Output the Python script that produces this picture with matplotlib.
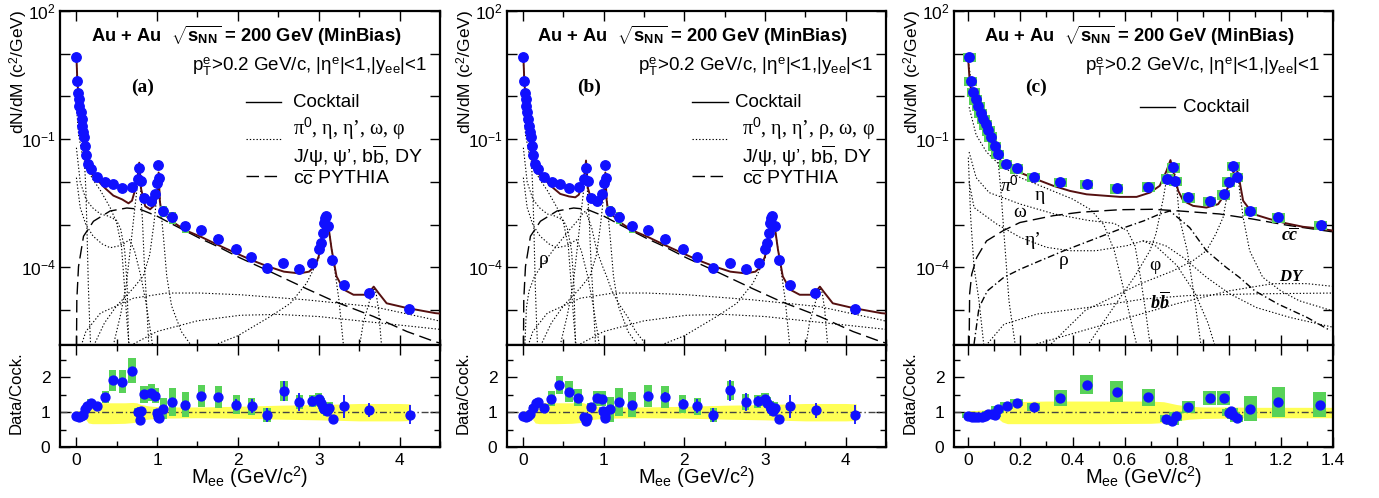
import numpy as np
import matplotlib
matplotlib.use("Agg")
import matplotlib.pyplot as plt
from matplotlib.patches import Rectangle
from matplotlib.ticker import FixedLocator, FixedFormatter, MultipleLocator, NullLocator

plt.rcParams.update({
    "font.family": ["Liberation Sans", "DejaVu Sans"],
    "mathtext.fontset": "custom",
    "mathtext.rm": "Liberation Sans",
    "mathtext.sf": "Liberation Sans:bold",
    "mathtext.bf": "Liberation Serif:bold:italic",
    "mathtext.it": "Liberation Serif:italic",
})

# ---------------- data (mass in GeV/c^2, log10 of dN/dM) ----------------
# measured spectrum, panels (a) and (b)
top_ab_m = [0.004, 0.012, 0.02, 0.033, 0.04, 0.054, 0.066, 0.078, 0.09, 0.1, 0.107, 0.12, 0.145, 0.18,
            0.256, 0.36, 0.46, 0.57, 0.69, 0.76, 0.78, 0.80, 0.84, 0.92, 0.98, 1.0, 1.015, 1.03, 1.08,
            1.19, 1.35, 1.55, 1.76, 1.98, 2.16, 2.36, 2.56, 2.76, 2.92, 3.0, 3.03, 3.05, 3.06, 3.08,
            3.09, 3.12, 3.17, 3.31, 3.62, 4.12]
top_ab_logy = [0.92, 0.37, 0.08, -0.06, -0.22, -0.37, -0.53, -0.69, -0.84, -0.96, -1.16, -1.37, -1.59,
               -1.69, -1.88, -1.99, -2.04, -2.14, -2.12, -1.94, -1.67, -1.98, -2.37, -2.45, -2.29, -2.02,
               -1.6, -1.9, -2.67, -2.82, -3.04, -3.13, -3.33, -3.58, -3.76, -4.01, -3.9, -4.03, -3.9,
               -3.58, -3.43, -3.19, -2.96, -2.84, -2.8, -3.02, -3.83, -4.42, -4.6, -4.97]
top_ab_sysrel = [0.1] * 28 + [0.3, 0.3, 0.3, 0.2, 0.2, 0.2, 0.2, 0.25] + [0.1] * 14

# measured spectrum, panel (c)
top_c_m = [0.003, 0.009, 0.019, 0.029, 0.038, 0.047, 0.058, 0.066, 0.077, 0.086, 0.102, 0.113, 0.144,
           0.185, 0.252, 0.352, 0.454, 0.569, 0.69, 0.763, 0.786, 0.795, 0.844, 0.927, 0.98, 1.0, 1.017,
           1.03, 1.083, 1.19, 1.353]
top_c_logy = [0.93, 0.36, 0.11, -0.065, -0.22, -0.38, -0.53, -0.65, -0.79, -0.94, -1.16, -1.35, -1.58,
              -1.68, -1.88, -2.0, -2.05, -2.15, -2.11, -1.92, -1.66, -1.97, -2.36, -2.44, -2.29, -1.99,
              -1.62, -1.88, -2.68, -2.83, -3.01]
top_c_sysrel = [0.25] * 31

# cocktail sums
coc_ab_m = [0.004, 0.012, 0.029, 0.05, 0.07, 0.09, 0.11, 0.15, 0.18, 0.26, 0.36, 0.46, 0.57, 0.647, 0.69,
            0.75, 0.78, 0.804, 0.854, 0.915, 0.977, 1.005, 1.02, 1.035, 1.05, 1.08, 1.19, 1.35, 1.55,
            1.76, 1.98, 2.17, 2.36, 2.57, 2.76, 2.88, 2.95, 3.0, 3.04, 3.08, 3.12, 3.16, 3.22, 3.31, 3.43,
            3.6, 3.68, 3.74, 3.84, 4.09, 4.44, 4.5]
coc_a_logy = [0.9, 0.49, -0.06, -0.45, -0.84, -1.16, -1.47, -1.68, -1.79, -1.95, -2.15, -2.32, -2.41,
              -2.5, -2.44, -2.05, -1.55, -2.17, -2.57, -2.64, -2.53, -2.25, -1.78, -2.45, -2.64, -2.74,
              -2.93, -3.13, -3.29, -3.48, -3.67, -3.83, -3.97, -4.1, -4.14, -4.1, -3.98, -3.74, -3.27,
              -2.76, -3.04, -3.58, -4.21, -4.52, -4.64, -4.64, -4.45, -4.6, -4.84, -4.95, -5.07, -5.08]
coc_b_logy = [0.9, 0.49, -0.06, -0.45, -0.84, -1.16, -1.47, -1.68, -1.79, -1.93, -2.12, -2.28, -2.34,
              -2.36, -2.3, -2.0, -1.5, -2.15, -2.47, -2.54, -2.46, -2.2, -1.78, -2.42, -2.62, -2.72,
              -2.93, -3.13, -3.29, -3.48, -3.67, -3.83, -3.97, -4.1, -4.14, -4.1, -3.98, -3.74, -3.27,
              -2.76, -3.04, -3.58, -4.21, -4.52, -4.64, -4.64, -4.45, -4.6, -4.84, -4.95, -5.07, -5.08]
coc_c_m = [0.0, 0.006, 0.019, 0.07, 0.111, 0.134, 0.198, 0.262, 0.326, 0.39, 0.454, 0.518, 0.582, 0.646,
           0.697, 0.735, 0.761, 0.776, 0.786, 0.806, 0.825, 0.863, 0.914, 0.959, 0.985, 1.004, 1.023,
           1.029, 1.04, 1.055, 1.093, 1.157, 1.221, 1.285, 1.349, 1.4]
coc_c_logy = [0.83, 0.29, -0.03, -0.73, -1.39, -1.58, -1.78, -1.94, -2.09, -2.21, -2.29, -2.32, -2.35,
              -2.35, -2.25, -2.09, -1.74, -1.49, -1.74, -2.21, -2.44, -2.56, -2.6, -2.52, -2.29, -2.01,
              -1.70, -1.66, -1.94, -2.44, -2.75, -2.87, -2.97, -3.05, -3.09, -3.14]

# charm (PYTHIA)
cc_ab_m = [0.004, 0.008, 0.029, 0.091, 0.214, 0.42, 0.627, 0.79, 1.0, 1.2, 1.53, 1.76, 2.03, 2.4, 2.85,
           3.2, 3.68, 4.09, 4.44, 4.5]
cc_ab_logy = [-5.9, -4.76, -3.98, -3.27, -2.92, -2.68, -2.61, -2.64, -2.8, -3.0, -3.32, -3.52, -3.78,
              -4.1, -4.5, -4.8, -5.15, -5.5, -5.74, -5.77]
cc_c_m = [0.003, 0.005, 0.013, 0.032, 0.07, 0.134, 0.198, 0.326, 0.428, 0.582, 0.71, 0.812, 0.965,
          1.093, 1.221, 1.4]
cc_c_logy = [-5.9, -4.62, -4.16, -3.77, -3.38, -3.14, -2.95, -2.79, -2.71, -2.65, -2.64, -2.68, -2.75,
             -2.87, -3.01, -3.17]

# hadronic components, panels (a)/(b)
pi0_ab_m = [0.0, 0.02, 0.05, 0.08, 0.1, 0.12, 0.135, 0.15, 0.165, 0.18]
pi0_ab_logy = [0.9, 0.1, -0.5, -1.0, -1.4, -2.2, -3.2, -4.4, -5.2, -5.9]
eta_ab_m = [0.003, 0.03, 0.08, 0.15, 0.21, 0.3, 0.42, 0.5, 0.56, 0.6, 0.63, 0.66]
eta_ab_logy = [-0.2, -0.9, -1.4, -1.75, -1.95, -2.2, -2.6, -2.95, -3.5, -4.5, -5.3, -5.9]
omd_ab_m = [0.003, 0.05, 0.12, 0.2, 0.3, 0.4, 0.5, 0.55, 0.6, 0.63, 0.65]
omd_ab_logy = [-1.2, -2.0, -2.4, -2.6, -2.75, -2.8, -2.9, -3.1, -3.6, -4.4, -5.9]
etap_ab_m = [0.003, 0.05, 0.12, 0.21, 0.32, 0.42, 0.52, 0.6, 0.66, 0.72, 0.8, 0.86, 0.92, 0.95]
etap_ab_logy = [-1.9, -2.6, -3.0, -3.27, -3.45, -3.54, -3.5, -3.43, -3.35, -3.6, -4.2, -4.8, -5.5, -5.9]
omega_ab_m = [0.45, 0.55, 0.62, 0.68, 0.72, 0.75, 0.78, 0.8, 0.82, 0.84, 0.87, 0.9]
omega_ab_logy = [-5.9, -5.1, -4.4, -3.4, -2.7, -2.2, -1.62, -2.3, -2.9, -3.8, -4.8, -5.9]
phi_ab_m = [0.2, 0.35, 0.5, 0.7, 0.83, 0.91, 0.96, 1.0, 1.02, 1.04, 1.08, 1.12, 1.18, 1.3, 1.45]
phi_ab_logy = [-5.9, -5.3, -4.9, -4.5, -4.2, -3.7, -3.0, -2.3, -1.85, -2.5, -3.3, -4.2, -4.9, -5.5, -5.9]
jpsi_ab_m = [1.6, 2.0, 2.4, 2.65, 2.85, 3.0, 3.05, 3.09, 3.12, 3.18, 3.25, 3.31]
jpsi_ab_logy = [-5.9, -5.6, -5.15, -4.84, -4.37, -3.8, -3.2, -2.8, -3.05, -3.82, -4.76, -5.9]
psip_ab_m = [3.5, 3.55, 3.62, 3.68, 3.71, 3.74, 3.78]
psip_ab_logy = [-5.9, -5.31, -4.84, -4.48, -4.6, -5.0, -5.9]
bb_ab_m = [0.05, 0.12, 0.3, 0.71, 1.12, 1.53, 2.03, 2.85, 3.68, 4.44, 4.5]
bb_ab_logy = [-5.9, -5.5, -5.07, -4.72, -4.6, -4.6, -4.64, -4.76, -4.92, -5.23, -5.26]
dy_ab_m = [0.6, 1.0, 1.5, 2.03, 2.5, 3.0, 3.5, 4.0, 4.5]
dy_ab_logy = [-5.9, -5.5, -5.25, -5.12, -5.1, -5.15, -5.25, -5.35, -5.45]
rho_b_m = [0.022, 0.041, 0.073, 0.137, 0.2, 0.277, 0.367, 0.482, 0.584, 0.674, 0.735, 0.774, 0.85,
           0.914, 0.99, 1.04, 1.1, 1.19, 1.3, 1.39, 1.5, 1.56]
rho_b_logy = [-5.79, -4.94, -4.55, -4.23, -4.04, -3.84, -3.61, -3.34, -3.1, -2.91, -2.75, -2.68, -3.07,
              -3.61, -4.0, -4.23, -4.55, -4.86, -5.17, -5.48, -5.75, -5.9]

# hadronic components, panel (c)
pi0_c_m = [0.0, 0.02, 0.05, 0.08, 0.1, 0.111, 0.125, 0.137, 0.156, 0.182]
pi0_c_logy = [0.83, -0.05, -0.55, -0.95, -1.15, -1.3, -2.2, -3.22, -4.78, -5.9]
eta_c_m = [0.003, 0.03, 0.07, 0.12, 0.2, 0.3, 0.4, 0.47, 0.52, 0.56, 0.6, 0.63, 0.65]
eta_c_logy = [-0.25, -0.9, -1.3, -1.6, -1.9, -2.15, -2.4, -2.65, -3.0, -3.6, -4.6, -5.4, -5.9]
omd_c_m = [0.003, 0.03, 0.08, 0.2, 0.33, 0.46, 0.56, 0.61, 0.64, 0.66, 0.68, 0.7]
omd_c_logy = [-1.3, -1.9, -2.25, -2.52, -2.75, -2.9, -2.97, -3.14, -3.5, -4.2, -5.0, -5.9]
etap_c_m = [0.003, 0.022, 0.11, 0.2, 0.3, 0.39, 0.49, 0.61, 0.67, 0.72, 0.8, 0.87, 0.92, 0.95]
etap_c_logy = [-2.0, -2.6, -2.99, -3.3, -3.53, -3.61, -3.61, -3.49, -3.38, -3.5, -3.95, -4.6, -5.3, -5.9]
tail_c_m = [0.67, 0.72, 0.76, 0.825, 0.914, 1.004, 1.106, 1.234, 1.4]
tail_c_logy = [-3.38, -3.42, -3.5, -3.77, -4.23, -4.62, -4.94, -5.17, -5.4]
steep_c_m = [0.0, 0.009, 0.022, 0.041, 0.06]
steep_c_logy = [-1.43, -2.83, -4.0, -4.78, -5.85]
omega_c_m = [0.45, 0.55, 0.64, 0.697, 0.72, 0.748, 0.77, 0.78, 0.79, 0.8, 0.81, 0.84, 0.863, 0.895]
omega_c_logy = [-5.9, -5.0, -4.2, -3.61, -3.22, -2.4, -1.62, -1.55, -1.7, -2.1, -2.83, -3.6, -4.5, -5.9]
phi_c_m = [0.3, 0.45, 0.658, 0.786, 0.863, 0.914, 0.95, 0.978, 0.997, 1.015, 1.025, 1.036, 1.055, 1.08,
           1.13, 1.2, 1.27, 1.4]
phi_c_logy = [-5.9, -5.0, -4.39, -4.08, -3.84, -3.61, -3.22, -2.83, -2.2, -1.75, -1.72, -1.95, -2.83,
              -3.61, -4.23, -4.55, -4.78, -5.02]
rho_c_m = [0.022, 0.041, 0.073, 0.137, 0.2, 0.277, 0.367, 0.482, 0.584, 0.674, 0.735, 0.774, 0.85, 0.914,
           0.99, 1.04, 1.1, 1.19, 1.3, 1.39]
rho_c_logy = [-5.79, -4.94, -4.55, -4.23, -4.04, -3.84, -3.61, -3.34, -3.1, -2.91, -2.75, -2.68, -3.07,
              -3.61, -4.0, -4.23, -4.55, -4.86, -5.17, -5.48]
bb_c_m = [0.06, 0.073, 0.137, 0.265, 0.456, 0.674, 0.84, 1.09, 1.4]
bb_c_logy = [-5.9, -5.79, -5.33, -5.09, -4.94, -4.74, -4.66, -4.62, -4.6]
dy_c_m = [0.2, 0.4, 0.6, 0.8, 1.0, 1.17, 1.3, 1.41]
dy_c_logy = [-5.9, -5.55, -5.2, -4.85, -4.55, -4.38, -4.38, -4.45]

# ratio data / cocktail
ra_m = [0.0, 0.03, 0.06, 0.09, 0.11, 0.14, 0.18, 0.26, 0.36, 0.45, 0.57, 0.69, 0.76, 0.785, 0.80, 0.84,
        0.93, 0.98, 1.0, 1.015, 1.03, 1.08, 1.19, 1.35, 1.55, 1.76, 1.98, 2.17, 2.36, 2.57, 2.76, 2.92,
        3.0, 3.03, 3.05, 3.07, 3.1, 3.13, 3.18, 3.31, 3.62, 4.13]
ra_r = [0.90, 0.87, 0.88, 0.93, 1.08, 1.19, 1.27, 1.17, 1.44, 1.92, 1.88, 2.19, 1.0, 0.77, 1.03, 1.51,
        1.56, 1.47, 0.98, 0.86, 0.83, 1.1, 1.29, 1.22, 1.46, 1.43, 1.22, 1.17, 0.92, 1.61, 1.29, 1.32,
        1.37, 1.25, 1.16, 1.08, 1.03, 1.13, 0.79, 1.17, 1.06, 0.93]
ra_stat = [0.02, 0.02, 0.02, 0.02, 0.03, 0.03, 0.04, 0.05, 0.06, 0.07, 0.08, 0.08, 0.05, 0.04, 0.05, 0.07,
           0.07, 0.07, 0.05, 0.04, 0.05, 0.08, 0.1, 0.1, 0.12, 0.13, 0.15, 0.2, 0.2, 0.3, 0.25, 0.15,
           0.1, 0.08, 0.06, 0.05, 0.05, 0.06, 0.08, 0.33, 0.21, 0.28]
ra_sys = [0.05, 0.05, 0.05, 0.06, 0.07, 0.08, 0.1, 0.1, 0.17, 0.3, 0.33, 0.36, 0.12, 0.08, 0.12, 0.25,
          0.25, 0.22, 0.12, 0.1, 0.1, 0.3, 0.4, 0.36, 0.32, 0.32, 0.27, 0.24, 0.2, 0.28, 0.2, 0.18,
          0.18, 0.16, 0.15, 0.14, 0.14, 0.15, 0.05, 0.1, 0.06, 0.05]

rb_m = [0.0, 0.03, 0.06, 0.09, 0.12, 0.16, 0.19, 0.26, 0.35, 0.45, 0.57, 0.68, 0.76, 0.78, 0.79, 0.84,
        0.91, 0.98, 0.99, 1.01, 1.02, 1.08, 1.19, 1.35, 1.55, 1.76, 1.98, 2.16, 2.36, 2.57, 2.76, 2.91,
        3.0, 3.03, 3.06, 3.08, 3.1, 3.12, 3.17, 3.31, 3.63, 4.12]
rb_r = [0.90, 0.86, 0.88, 0.96, 1.13, 1.25, 1.29, 1.13, 1.39, 1.79, 1.59, 1.42, 0.86, 0.74, 0.83, 1.15,
        1.40, 1.39, 1.03, 0.90, 0.82, 1.08, 1.29, 1.22, 1.47, 1.44, 1.24, 1.17, 0.92, 1.63, 1.29, 1.31,
        1.37, 1.27, 1.17, 1.08, 1.03, 1.13, 0.79, 1.17, 1.05, 0.93]
rb_stat = ra_stat
rb_sys = [0.05, 0.05, 0.05, 0.06, 0.07, 0.08, 0.1, 0.1, 0.22, 0.26, 0.3, 0.24, 0.12, 0.08, 0.1, 0.12,
          0.22, 0.22, 0.12, 0.1, 0.1, 0.36, 0.4, 0.35, 0.32, 0.32, 0.26, 0.24, 0.21, 0.27, 0.22, 0.19,
          0.18, 0.16, 0.15, 0.14, 0.14, 0.15, 0.05, 0.1, 0.06, 0.05]

rc_m = [0.0, 0.013, 0.026, 0.038, 0.051, 0.064, 0.077, 0.09, 0.102, 0.113, 0.147, 0.185, 0.252, 0.352,
        0.454, 0.569, 0.69, 0.76, 0.782, 0.797, 0.844, 0.927, 0.98, 1.0, 1.01, 1.017, 1.03, 1.083, 1.19,
        1.35]
rc_r = [0.90, 0.86, 0.85, 0.86, 0.86, 0.90, 0.95, 0.95, 0.93, 1.08, 1.19, 1.27, 1.15, 1.40, 1.79, 1.59,
        1.43, 0.81, 0.74, 0.88, 1.15, 1.40, 1.40, 0.98, 1.03, 0.91, 0.82, 1.10, 1.29, 1.22]
rc_stat = [0.01, 0.01, 0.01, 0.01, 0.01, 0.01, 0.02, 0.02, 0.02, 0.02, 0.03, 0.03, 0.04, 0.05, 0.06,
           0.06, 0.07, 0.04, 0.04, 0.04, 0.06, 0.08, 0.08, 0.05, 0.05, 0.05, 0.05, 0.08, 0.1, 0.1]
rc_sys = [0.07, 0.07, 0.07, 0.07, 0.07, 0.07, 0.08, 0.08, 0.08, 0.1, 0.1, 0.1, 0.12, 0.23, 0.27, 0.3,
          0.25, 0.1, 0.1, 0.12, 0.18, 0.2, 0.2, 0.1, 0.1, 0.1, 0.1, 0.36, 0.42, 0.36]

# cocktail uncertainty bands
band_ab_m = [0.0, 0.05, 0.1, 0.15, 0.2, 0.4, 0.6, 0.7, 0.75, 0.8, 0.9, 1.0, 1.1, 1.5, 2.0, 2.5, 3.0,
             3.5, 4.0, 4.13]
band_ab_lo = [0.97, 0.95, 0.85, 0.69, 0.67, 0.67, 0.68, 0.70, 0.72, 0.78, 0.80, 0.82, 0.83, 0.84, 0.83,
              0.80, 0.78, 0.75, 0.75, 0.76]
band_ab_hi = [1.03, 1.05, 1.12, 1.27, 1.28, 1.27, 1.27, 1.28, 1.27, 1.22, 1.18, 1.16, 1.15, 1.15, 1.17,
              1.2, 1.22, 1.25, 1.25, 1.24]
band_c_m = [0.0, 0.03, 0.06, 0.09, 0.11, 0.13, 0.15, 0.3, 0.5, 0.7, 0.75, 0.8, 0.85, 0.9, 1.0, 1.1, 1.2,
            1.3, 1.4]
band_c_lo = [0.96, 0.95, 0.93, 0.9, 0.85, 0.72, 0.67, 0.67, 0.67, 0.68, 0.7, 0.75, 0.8, 0.82, 0.83, 0.84,
             0.84, 0.84, 0.84]
band_c_hi = [1.04, 1.05, 1.07, 1.1, 1.12, 1.25, 1.3, 1.32, 1.32, 1.32, 1.3, 1.22, 1.17, 1.15, 1.15, 1.14,
             1.14, 1.14, 1.14]

# tick labels
ab_xticks = [0, 1, 2, 3, 4]
ab_xticklabels = ["0", "1", "2", "3", "4"]
c_xticks = [0.0, 0.2, 0.4, 0.6, 0.8, 1.0, 1.2, 1.4]
c_xticklabels = ["0", "0.2", "0.4", "0.6", "0.8", "1", "1.2", "1.4"]
log_decades = [-5, -4, -3, -2, -1, 0, 1, 2]
log_labels = ["", r"$\mathrm{10^{-4}}$", "", "", r"$\mathrm{10^{-1}}$", "", "", r"$\mathrm{10^{2}}$"]
ratio_ticks = [0, 1, 2]
ratio_ticklabels = ["0", "1", "2"]

# component labels in panel (c): text, mass, log10(dN/dM), style, size
c_labels = [
    ("π$^{\\mathit{0}}$", 0.157, -2.09, "italic", 14),
    ("η", 0.275, -2.32, "normal", 14),
    ("ω", 0.198, -2.71, "normal", 14),
    ("η’", 0.249, -3.38, "normal", 14),
    ("ρ", 0.364, -3.84, "normal", 14),
    ("φ", 0.716, -3.96, "normal", 14),
    (r"$\mathbf{DY}$", 1.24, -4.23, "normal", 12),
    (r"$\mathbf{b\overline{b}}$", 0.735, -4.82, "normal", 13),
    (r"$\mathbf{c\overline{c}}$", 1.234, -3.26, "normal", 13),
]

# ---------------- figure ----------------
W, H = 1379, 498
fig = plt.figure(figsize=(W / 100, H / 100), dpi=100)

BLUE = "#1010ff"
GREEN = "#58d258"
YELLOW = "#ffff55"
COCK = "#551010"
DOT = dict(color="k", lw=0.8, ls=(0, (1.2, 1.8)))
DASH = dict(color="k", lw=1.0, ls=(0, (9, 4)))
DASHDOT = dict(color="k", lw=1.0, ls=(0, (5, 2, 1, 2)))

TOP, MID, BOT = 11, 345, 447


def add_ax(l, t, r, b):
    return fig.add_axes([l / W, 1 - b / H, (r - l) / W, (b - t) / H])


def style(ax):
    for s in ax.spines.values():
        s.set_linewidth(1.6)
    ax.tick_params(which="both", direction="in", top=True, right=True, width=1.0, labelsize=12.5)
    ax.tick_params(which="major", length=7)
    ax.tick_params(which="minor", length=4)


def curve(ax, m, logy, **kw):
    ax.plot(m, np.power(10.0, np.asarray(logy)), **kw)


def top_panel(l, r, xlim, xmaj, xmin, letter):
    ax = add_ax(l, TOP, r, MID)
    style(ax)
    ax.set_yscale("log")
    ax.set_xlim(*xlim)
    ax.set_ylim(10 ** -5.816, 100)
    ax.yaxis.set_major_locator(FixedLocator([10.0 ** k for k in log_decades]))
    ax.yaxis.set_major_formatter(FixedFormatter(log_labels))
    ax.yaxis.set_minor_locator(NullLocator())
    ax.xaxis.set_major_locator(MultipleLocator(xmaj))
    ax.xaxis.set_minor_locator(MultipleLocator(xmin))
    ax.tick_params(axis="x", labelbottom=False)
    ax.tick_params(axis="y", pad=3)
    ax.text(-0.108, 1.003, "dN/dM (c$^{2}$/GeV)", transform=ax.transAxes, rotation=90,
            ha="center", va="top", fontsize=12.5)
    ax.text(0.49, 0.925, r"Au + Au  $\sqrt{\mathsf{s}_{\mathsf{NN}}}$ = 200 GeV (MinBias)",
            transform=ax.transAxes, ha="center", va="center", fontsize=13.2, weight="bold")
    ax.text(0.966, 0.832, r"$\mathrm{p}_{\mathrm{T}}^{\mathrm{e}}$>0.2 GeV/c, |η$^{\mathrm{e}}$|<1,|y$_{\mathrm{ee}}$|<1",
            transform=ax.transAxes, ha="right", va="center", fontsize=13.5)
    ax.text(0.216, 0.772, letter, transform=ax.transAxes, ha="center", va="center",
            fontsize=14, weight="bold", family="Liberation Serif")
    return ax


def ratio_panel(l, r, xlim, xmaj, xmin, xticks, xticklabels):
    ax = add_ax(l, MID, r, BOT)
    style(ax)
    ax.set_xlim(*xlim)
    ax.set_ylim(0, 2.93)
    ax.xaxis.set_major_locator(FixedLocator(xticks))
    ax.xaxis.set_major_formatter(FixedFormatter(xticklabels))
    ax.xaxis.set_minor_locator(MultipleLocator(xmin))
    ax.yaxis.set_major_locator(FixedLocator(ratio_ticks))
    ax.yaxis.set_major_formatter(FixedFormatter(ratio_ticklabels))
    ax.yaxis.set_minor_locator(MultipleLocator(0.5))
    ax.tick_params(axis="y", pad=7)
    ax.tick_params(axis="x", pad=4)
    ax.text(-0.116, 0.53, "Data/Cock.", transform=ax.transAxes, rotation=90,
            ha="center", va="center", fontsize=12)
    ax.text(0.5, -0.30, r"M$_{\mathrm{ee}}$ (GeV/c$^{2}$)", transform=ax.transAxes,
            ha="center", va="center", fontsize=14.5)
    return ax


def draw_ratio(ax, m, r, stat, sys, hw, bm, blo, bhi):
    ax.fill_between(bm, blo, bhi, color=YELLOW, lw=0, zorder=1)
    ax.axhline(1.0, color="#444444", lw=1.0, ls=(0, (5, 2, 1, 2)), zorder=2)
    for mi, ri, si in zip(m, r, sys):
        ax.add_patch(Rectangle((mi - hw, ri - si), 2 * hw, 2 * si, facecolor=GREEN,
                               edgecolor="none", zorder=3))
    ax.errorbar(m, r, yerr=stat, fmt="o", ms=6.4, color=BLUE, ecolor=BLUE, elinewidth=1.3,
                capsize=0, zorder=5)


def draw_top_data(ax, m, logy, sysrel, hw):
    y = np.power(10.0, np.asarray(logy))
    for mi, yi, si in zip(m, y, sysrel):
        ax.add_patch(Rectangle((mi - hw, yi * (1 - si)), 2 * hw, yi * 2 * si, facecolor=GREEN,
                               edgecolor="none", zorder=5))
    ax.plot(m, y, "o", ms=6.8, color=BLUE, zorder=6)


def legend_ab(ax, row2, x_text1, x_text2):
    ax.plot([0.489, 0.582], [0.727, 0.727], transform=ax.transAxes, color="k", lw=1.0)
    ax.text(x_text1, 0.727, "Cocktail", transform=ax.transAxes, va="center", fontsize=13.5)
    ax.text(x_text2, 0.648, row2, transform=ax.transAxes, va="center", fontsize=14.5,
            family=["Liberation Serif", "DejaVu Serif"])
    ax.plot([0.489, 0.582], [0.616, 0.616], transform=ax.transAxes, **DOT)
    ax.text(x_text2, 0.566, r"J/ψ, ψ’, b$\overline{\mathrm{b}}$, DY", transform=ax.transAxes,
            va="center", fontsize=14)
    ax.plot([0.489, 0.582], [0.506, 0.506], transform=ax.transAxes, **DASH)
    ax.text(x_text2, 0.497, r"c$\overline{\mathrm{c}}$ PYTHIA", transform=ax.transAxes,
            va="center", fontsize=14)


ab_components = [
    (pi0_ab_m, pi0_ab_logy), (eta_ab_m, eta_ab_logy), (omd_ab_m, omd_ab_logy),
    (etap_ab_m, etap_ab_logy), (omega_ab_m, omega_ab_logy), (phi_ab_m, phi_ab_logy),
    (jpsi_ab_m, jpsi_ab_logy), (psip_ab_m, psip_ab_logy), (bb_ab_m, bb_ab_logy),
    (dy_ab_m, dy_ab_logy),
]

# ---------- panel (a) ----------
axa = top_panel(60, 440, (-0.2, 4.5), 1, 0.5, "(a)")
for m, ly in ab_components:
    curve(axa, m, ly, zorder=2, **DOT)
curve(axa, cc_ab_m, cc_ab_logy, zorder=2, **DASH)
curve(axa, coc_ab_m, coc_a_logy, color=COCK, lw=1.4, zorder=3)
draw_top_data(axa, top_ab_m, top_ab_logy, top_ab_sysrel, 0.04)
legend_ab(axa, "π$^{0}$, η, η’, ω, φ", 0.613, 0.613)
rat_a = ratio_panel(60, 440, (-0.2, 4.5), 1, 0.5, ab_xticks, ab_xticklabels)
draw_ratio(rat_a, ra_m, ra_r, ra_stat, ra_sys, 0.045, band_ab_m, band_ab_lo, band_ab_hi)

# ---------- panel (b) ----------
axb = top_panel(507, 886, (-0.2, 4.5), 1, 0.5, "(b)")
for m, ly in ab_components:
    curve(axb, m, ly, zorder=2, **DOT)
curve(axb, rho_b_m, rho_b_logy, zorder=2, **DOT)
curve(axb, cc_ab_m, cc_ab_logy, zorder=2, **DASH)
curve(axb, coc_ab_m, coc_b_logy, color=COCK, lw=1.4, zorder=3)
draw_top_data(axb, top_ab_m, top_ab_logy, top_ab_sysrel, 0.04)
legend_ab(axb, "π$^{0}$, η, η’, ρ, ω, φ", 0.601, 0.619)
axb.text(0.25, 10 ** -3.82, "ρ", ha="center", va="center", fontsize=14,
         family="Liberation Serif")
rat_b = ratio_panel(507, 886, (-0.2, 4.5), 1, 0.5, ab_xticks, ab_xticklabels)
draw_ratio(rat_b, rb_m, rb_r, rb_stat, rb_sys, 0.045, band_ab_m, band_ab_lo, band_ab_hi)

# ---------- panel (c) ----------
axc = top_panel(954, 1333, (-0.055, 1.4), 0.2, 0.1, "(c)")
for m, ly in [(pi0_c_m, pi0_c_logy), (eta_c_m, eta_c_logy), (omd_c_m, omd_c_logy),
              (etap_c_m, etap_c_logy), (tail_c_m, tail_c_logy), (steep_c_m, steep_c_logy),
              (omega_c_m, omega_c_logy), (phi_c_m, phi_c_logy), (bb_c_m, bb_c_logy),
              (dy_c_m, dy_c_logy)]:
    curve(axc, m, ly, zorder=2, **DOT)
curve(axc, rho_c_m, rho_c_logy, zorder=2, **DASHDOT)
curve(axc, cc_c_m, cc_c_logy, zorder=2, **DASH)
curve(axc, coc_c_m, coc_c_logy, color=COCK, lw=1.4, zorder=3)
draw_top_data(axc, top_c_m, top_c_logy, top_c_sysrel, 0.025)
axc.plot([0.491, 0.583], [0.712, 0.712], transform=axc.transAxes, color="k", lw=1.0)
axc.text(0.604, 0.712, "Cocktail", transform=axc.transAxes, va="center", fontsize=13.5)
for txt, xm, ly, st, fs in c_labels:
    axc.text(xm, 10 ** ly, txt, ha="center", va="center", fontsize=fs, style=st,
             family="Liberation Serif")
rat_c = ratio_panel(954, 1333, (-0.055, 1.4), 0.2, 0.1, c_xticks, c_xticklabels)
draw_ratio(rat_c, rc_m, rc_r, rc_stat, rc_sys, 0.025, band_c_m, band_c_lo, band_c_hi)

fig.savefig("out.png", dpi=100)
